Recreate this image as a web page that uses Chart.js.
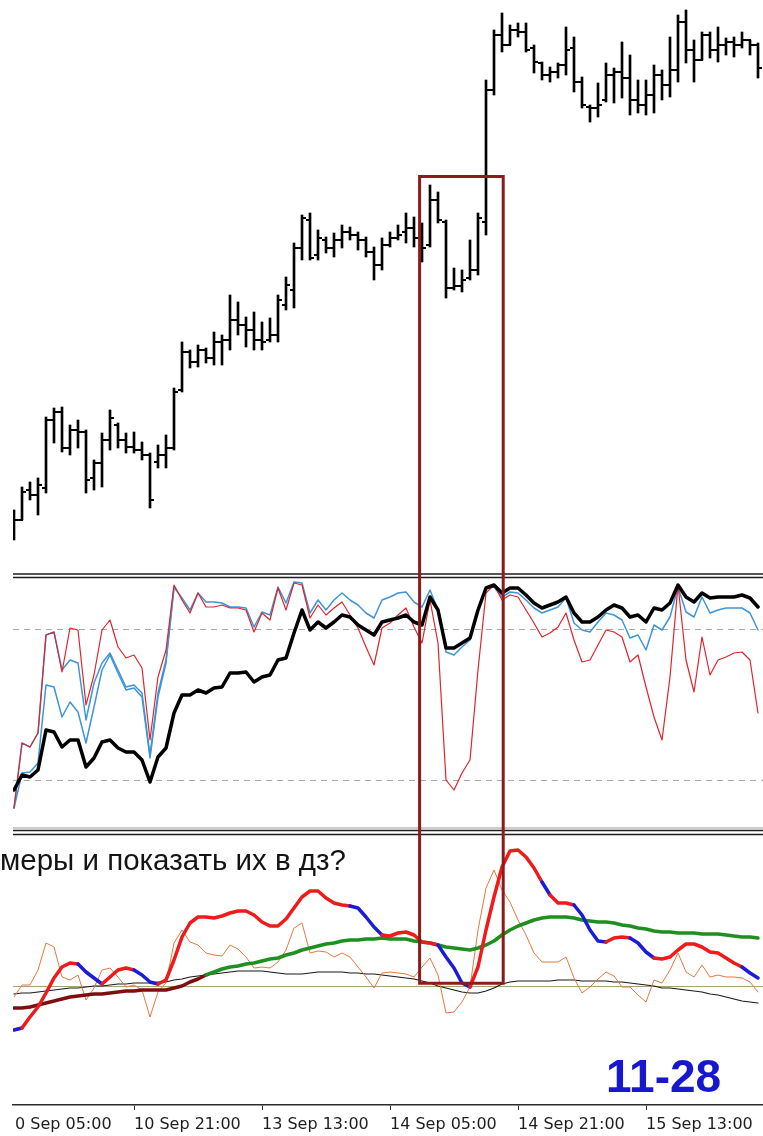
<!DOCTYPE html>
<html>
<head>
<meta charset="utf-8">
<script src="https://cdn.jsdelivr.net/npm/chart.js@4.4.1/dist/chart.umd.min.js"></script>
<style>
html,body{margin:0;padding:0;background:#fff;}
body{position:relative;width:763px;height:1136px;overflow:hidden;}
canvas{position:absolute;left:0;display:block;}
#priceCanvas{top:0;}
#oscCanvas{top:572px;}
#macdCanvas{top:836px;}
.note{position:absolute;white-space:nowrap;font-family:"Liberation Sans",Arial,sans-serif;line-height:1;}
#question{left:0;top:845px;font-size:29.5px;color:#141414;}
#stamp{left:606px;top:1053px;font-size:46px;font-weight:bold;color:#1717cf;}
</style>
</head>
<body>
<canvas id="priceCanvas" width="763" height="572"></canvas>
<canvas id="oscCanvas" width="763" height="264"></canvas>
<canvas id="macdCanvas" width="763" height="300"></canvas>
<div id="question" class="note">меры и показать их в дз?</div>
<div id="stamp" class="note">11-28</div>
<script>
// ---------- categories / time axis ----------
const barIndex = Array.from({length: 94}, (_, i) => i);
const tickBars = [0.125, 15, 31, 47, 63, 79];
const tickLabels = ['0 Sep 05:00', '10 Sep 21:00', '13 Sep 13:00', '14 Sep 05:00', '14 Sep 21:00', '15 Sep 13:00'];

// ---------- price bars (points) ----------
const priceHigh = [90,113,118,122,183,192,193,175,180,170, 140,167,190,177,167,168,158,147,155,165,
  212,258,250,255,252,268,265,305,298,283, 288,278,282,305,323,357,385,387,370,363,
  367,375,373,368,363,353,362,368,375,387, 383,377,415,408,380,332,330,360,387,520,
  570,587,575,577,577,555,538,533,537,573, 563,523,495,517,537,532,558,545,520,520,
  535,530,563,585,590,560,568,568,573,562, 563,568,560,557];
const priceLow = [60,80,100,85,107,157,148,145,152,107, 110,113,150,152,147,147,140,92,132,132,
  150,208,232,233,237,235,235,250,265,253, 250,250,258,258,290,292,340,340,340,347,
  343,352,360,350,343,320,330,353,360,357, 353,338,353,377,302,310,308,320,325,365,
  505,548,555,563,548,527,520,518,522,525, 508,492,478,483,498,497,502,485,487,485,
  487,500,503,518,537,518,540,542,538,545, 543,552,545,522];
const priceOpen = [72,80,110,105,112,180,188,152,170,168, 122,137,160,175,160,153,150,145,138,145,
  152,210,248,238,250,242,258,260,280,275, 270,260,260,265,295,310,352,380,345,360,
  352,360,368,365,360,348,335,355,362,368, 372,362,355,400,378,312,314,322,330,378,
  510,565,555,570,568,552,537,525,528,535, 552,518,493,492,500,525,528,522,500,495,
  505,525,515,530,578,550,540,565,550,555, 558,555,560,555];
const priceClose = [80,108,105,115,180,188,152,170,168,120, 137,160,182,160,153,150,145,100,145,152,
  208,248,238,250,242,258,260,280,275,270, 260,258,265,300,315,352,382,342,362,352,
  360,368,365,360,348,335,355,362,365,372, 362,352,400,380,312,314,320,330,382,510,
  565,555,570,568,550,538,525,528,535,550, 518,495,492,495,525,528,522,500,495,505,
  525,515,530,578,550,540,565,550,555,558, 555,560,555,532];

// ---------- oscillator panel (0..100) ----------
const oscLevels = [20, 80];
const oscBlack = [16,22,21.2,24,40,39.2,33.2,36,36,25.2, 28.8,35.2,36,32.8,31.2,31.2,28,19.2,29.2,32.8,
  46.8,54,54,56,54.8,56.8,57.2,62.8,62.8,63.2, 59.2,61.2,62,68,68.8,78.8,88,80,83.2,80.8,
  83.2,86,85.2,82,80,78,83.2,84,84.8,86, 83.2,82,93.2,88,72.8,72.8,74.8,76.8,88,96.8,
  98,94.8,96.8,96.8,94,90.8,88.8,90,91.2,93.2, 86.8,83.2,83.2,85.2,88,90,88.8,85.2,86,83.2,
  88.8,88,90.8,98,93.2,91.2,94.8,92.8,93.2,93.2, 93.2,94,92.8,89.2];
const oscRed = [8.8,34.8,33.2,38.8,78,79.2,63.2,80.8,80,50, 62,80,84,73.2,68.8,70,64.8,36,61.2,72,
  98,92,86.8,94.8,89.2,89.2,90,88.8,88.8,88, 79.2,86.8,84,96.8,88,98.8,98,84.8,90,86,
  88.8,91.2,86,80.8,73.2,66,80.8,82.8,86,88.8, 81.2,74.8,92,74.8,20,16,22.8,28,64,94.8,
  98,92,94,93.2,88,82.8,77.2,78.8,81.2,86.8, 76,67.2,68,74,80,79.2,77.2,67.2,70,57.2,
  45.2,36,61.2,98,68,55.2,77.2,62,68,69.2, 70.8,71.2,68,46.8];
const oscBlue = [8.8,34.8,33.2,38.8,78,79.2,64,68,66.8,44, 58.8,66.8,70.8,64,57.2,58,54.8,30,54.8,68,
  97.2,92.8,88,94.8,91.2,91.2,90.8,89.2,89.2,88.8, 81.2,87.2,86,97.2,90.8,99.2,98.8,86.8,92,88,
  92,94.8,92,90,86.8,84.8,92,93.2,94.8,95.2, 91.2,89.2,96,88,71.2,70,73.2,76,88,96.8,
  97.2,93.2,95.2,94.8,92,88.8,86.8,88,89.2,92.8, 82.8,80,79.2,83.2,86.8,86,84,76.8,78,72,
  82,80,85.2,97.2,87.2,85.2,93.2,86.8,88,88.8, 88.8,88.8,86.8,80];
const oscBlueSlow = [8.8,22.8,23.2,26.8,58,57.2,45.2,51.2,47.2,34.8, 49.2,64,70,62.8,56,56.8,53.2,28.8,53.2,66.8, 96.8];

// ---------- lower panel ----------
const zeroLevel = [0];
const macdMain = [-4.4,-4.2,-3.1,-2.1,-0.7,0.8,1.9,2.3,2.2,1.4, 0.8,0.2,0.9,1.6,1.8,1.6,1.1,0.4,0.2,0.6,
  2.6,4.9,6.3,6.9,6.9,6.8,7.0,7.3,7.5,7.5, 7.1,6.4,6.0,6.0,6.7,7.8,8.9,9.5,9.5,8.8,
  8.3,8.1,8.0,7.8,6.9,5.9,5.1,5.0,5.3,5.4, 5.1,4.4,4.3,4.1,2.9,1.8,0.3,-0.1,1.9,5.6,
  8.9,11.9,13.5,13.6,12.9,11.8,10.4,9.1,8.3,8.3, 8.1,7.1,5.6,4.5,4.4,4.8,4.9,4.8,4.3,3.4,
  2.8,2.7,2.9,3.6,4.2,4.2,3.9,3.4,3.3,2.8, 2.3,1.9,1.3,0.8];
const macdState = 'dduuuuuuu ddd uuuu ddd uuuuuu uuuuuu uuuuuu uuuuuu dddd uuuu uuu dddd uuuuu uuuu d uuu dddd uuu ddd uuuuuu uuuuu dd'.replace(/ /g, '').split('');
const macdSignal = [-2.2,-2.2,-2.1,-1.9,-1.7,-1.5,-1.3,-1.1,-1.0,-0.9, -0.8,-0.8,-0.7,-0.6,-0.5,-0.5,-0.4,-0.4,-0.4,-0.4,
  -0.2,0,0.4,0.7,1.1,1.4,1.7,1.9,2.0,2.2, 2.3,2.5,2.7,2.8,3.1,3.3,3.6,3.8,4.0,4.2,
  4.3,4.5,4.6,4.6,4.7,4.7,4.8,4.7,4.7,4.7, 4.5,4.4,4.3,4.1,3.9,3.8,3.7,3.6,3.8,4.1,
  4.5,5.1,5.6,6.0,6.3,6.6,6.8,6.9,6.9,6.9, 6.8,6.6,6.5,6.4,6.4,6.3,6.1,6.0,5.8,5.7,
  5.5,5.4,5.4,5.3,5.3,5.3,5.2,5.2,5.2,5.1, 5.0,4.9,4.9,4.8];
const slowBlack = [-0.8,-0.7,-0.7,-0.6,-0.5,-0.4,-0.3,-0.2,-0.2,-0.1, 0,0,0.1,0.2,0.2,0.3,0.3,0.3,0.4,0.4,
  0.6,0.7,0.9,1.0,1.1,1.2,1.3,1.4,1.5,1.5, 1.5,1.5,1.4,1.3,1.2,1.2,1.2,1.3,1.4,1.4,
  1.4,1.4,1.3,1.3,1.2,1.2,1.1,1.0,0.9,0.8, 0.7,0.5,0.3,0,-0.2,-0.4,-0.6,-0.7,-0.7,-0.5,
  -0.2,0.2,0.4,0.5,0.5,0.5,0.5,0.5,0.6,0.6, 0.6,0.5,0.5,0.5,0.5,0.4,0.4,0.3,0.2,0.1,
  0,-0.2,-0.2,-0.3,-0.4,-0.5,-0.6,-0.8,-0.9,-1.1, -1.3,-1.5,-1.6,-1.7];
const fastOrange = [-1.1,0.1,0.1,1.6,4.3,3.9,0.9,0.6,1.1,-1.4, -0.2,1.6,1.8,0.9,-0.1,0.1,-0.4,-3.1,-0.6,0.3,
  4.3,5.6,4.4,4.1,3.3,3.1,3.0,4.1,3.7,2.9, 1.8,1.9,1.8,2.4,3.6,5.8,6.3,3.3,3.5,3.4,
  2.9,3.3,2.9,1.9,0.9,-0.2,1.3,1.4,1.3,1.2, 0.9,1.9,2.8,1.1,-2.7,-2.6,-1.6,-0.1,5.6,9.8,
  11.6,9.6,8.4,6.6,5.1,3.3,2.4,2.4,2.4,2.9, 0.8,-0.7,-0.1,0.7,1.4,1.0,-0.1,-0.1,-0.9,-1.6,
  0.6,0.3,1.6,3.3,1.4,0.9,2.1,0.9,1.1,0.9, 0.9,0.8,0.4,-0.6];

// ---------- highlighted window ----------
const boxFromBar = 50.7, boxToBar = 61.15, boxTopPrice = 423.5, boxBottomLevel = 0.27;

// ---------- helpers ----------
const xMin = -0.125, xMax = 93.625;
const pts = arr => arr.map((v, i) => ({x: barIndex[i], y: v}));
function tickImage(side) {
  const c = document.createElement('canvas');
  c.width = 8; c.height = 2;
  const g = c.getContext('2d');
  g.fillStyle = '#000';
  if (side === 'open') g.fillRect(0, 0, 5, 2); else g.fillRect(3, 0, 5, 2);
  return c;
}
const BOX_COLOR = '#8e1b1b';
const boxPlugin = {
  id: 'box',
  afterDraw(chart, args, opts) {
    const {ctx, scales} = chart;
    const x1 = scales.x.getPixelForValue(boxFromBar);
    const x2 = scales.x.getPixelForValue(boxToBar);
    ctx.save();
    ctx.strokeStyle = BOX_COLOR; ctx.lineWidth = 3; ctx.lineJoin = 'miter';
    ctx.beginPath();
    if (opts.part === 'top') {
      const t = scales.y.getPixelForValue(boxTopPrice);
      ctx.moveTo(x1, chart.height); ctx.lineTo(x1, t); ctx.lineTo(x2, t); ctx.lineTo(x2, chart.height);
    } else if (opts.part === 'bottom') {
      const b = scales.y.getPixelForValue(boxBottomLevel);
      ctx.moveTo(x1, 0); ctx.lineTo(x1, b); ctx.lineTo(x2, b); ctx.lineTo(x2, 0);
    } else {
      ctx.moveTo(x1, 0); ctx.lineTo(x1, chart.height);
      ctx.moveTo(x2, 0); ctx.lineTo(x2, chart.height);
    }
    ctx.stroke();
    ctx.restore();
  }
};
const framePlugin = {
  id: 'frame',
  beforeDraw(chart) {
    const {ctx, chartArea} = chart;
    const lines = [[2, 1.5, '#1e1e1e'], [5.5, 1.5, '#1e1e1e'], [256, 1, '#9a9a9a'], [258.5, 1.5, '#1e1e1e'], [262.5, 1.5, '#1e1e1e']];
    ctx.save();
    for (const [y, w, c] of lines) {
      ctx.strokeStyle = c; ctx.lineWidth = w;
      ctx.beginPath(); ctx.moveTo(chartArea.left, y); ctx.lineTo(chartArea.right, y); ctx.stroke();
    }
    ctx.restore();
  }
};
const base = {
  responsive: false, animation: false, events: [],
  layout: {autoPadding: false, padding: {left: 13, right: 0, top: 0, bottom: 0}},
  elements: {point: {radius: 0}, line: {tension: 0, borderJoinStyle: 'round', borderCapStyle: 'round'}},
};
const hiddenX = () => ({type: 'linear', min: xMin, max: xMax, offset: false, display: false});

// ---------- price chart ----------
new Chart(document.getElementById('priceCanvas'), {
  type: 'bar',
  data: {datasets: [
    {type: 'line', data: pts(priceOpen), showLine: false, pointStyle: tickImage('open'), pointRadius: 4, order: 1},
    {type: 'line', data: pts(priceClose), showLine: false, pointStyle: tickImage('close'), pointRadius: 4, order: 1},
    {type: 'bar', data: barIndex.map(i => ({x: i, y: [priceLow[i], priceHigh[i]]})), backgroundColor: '#000', borderWidth: 0, barThickness: 2, order: 2},
  ]},
  options: Object.assign({}, base, {
    plugins: {legend: {display: false}, tooltip: {enabled: false}, box: {part: 'top'}},
    scales: {x: hiddenX(), y: {type: 'linear', min: 28, max: 600, beginAtZero: false, display: false}},
  }),
  plugins: [boxPlugin],
});

// ---------- oscillator chart ----------
new Chart(document.getElementById('oscCanvas'), {
  type: 'line',
  data: {datasets: [
    {data: pts(oscBlack), borderColor: '#000', borderWidth: 3.5, order: 0},
    {data: pts(oscRed), borderColor: '#e0242c', borderWidth: 1.2, order: 1},
    {data: pts(oscBlue), borderColor: '#3d95d8', borderWidth: 1.5, order: 2},
    {data: pts(oscBlueSlow), borderColor: '#3d95d8', borderWidth: 1.5, order: 3},
  ]},
  options: Object.assign({}, base, {
    layout: {autoPadding: false, padding: {left: 13, right: 0, top: 8, bottom: 6}},
    plugins: {legend: {display: false}, tooltip: {enabled: false}, box: {part: 'mid'}},
    scales: {
      x: hiddenX(),
      y: {type: 'linear', min: 0, max: 100,
        afterBuildTicks: s => { s.ticks = oscLevels.map(v => ({value: v})); },
        grid: {drawTicks: false, color: '#a9a9a9', lineWidth: 1},
        border: {display: false, dash: [6, 5]},
        ticks: {display: false}},
    },
  }),
  plugins: [framePlugin, boxPlugin],
});

// ---------- lower chart ----------
new Chart(document.getElementById('macdCanvas'), {
  type: 'line',
  data: {datasets: [
    {data: pts(macdMain), borderWidth: 3.5, borderColor: '#ee1b1b', order: 0,
      segment: {borderColor: c => macdState[c.p1DataIndex] === 'd' ? '#1c1cd8' : '#ee1b1b'}},
    {data: pts(macdSignal), borderWidth: 3.5, borderColor: '#1f8f1f', order: 1,
      segment: {borderColor: c => macdSignal[c.p1DataIndex] > slowBlack[c.p1DataIndex] ? '#1f8f1f' : '#7d0f0f'}},
    {data: pts(fastOrange), borderColor: '#e8773c', borderWidth: 1, order: 2},
    {data: pts(slowBlack), borderColor: '#1a1a1a', borderWidth: 1.2, order: 3},
  ]},
  options: Object.assign({}, base, {
    plugins: {legend: {display: false}, tooltip: {enabled: false}, box: {part: 'bottom'}},
    scales: {
      x: {type: 'linear', min: xMin, max: xMax, offset: false,
        afterBuildTicks: s => { s.ticks = tickBars.map(v => ({value: v})); },
        afterFit: s => { s.height = 31; s.paddingLeft = 0; s.paddingRight = 0; },
        grid: {drawOnChartArea: false, drawTicks: true, tickLength: 5, lineWidth: 1,
          color: c => c.index === 0 ? 'rgba(0,0,0,0)' : '#2b2b2b'},
        border: {display: true, color: '#2b2b2b', width: 1.5},
        ticks: {autoSkip: false, maxRotation: 0, minRotation: 0, align: 'start', padding: 5, color: '#1e1e1e',
          font: {family: "'DejaVu Sans', sans-serif", size: 16}, callback: (v, i) => tickLabels[i]}},
      y: {type: 'linear', min: -11.9, max: 15,
        afterBuildTicks: s => { s.ticks = zeroLevel.map(v => ({value: v})); },
        grid: {drawTicks: false, color: '#a3a37a', lineWidth: 1},
        border: {display: false},
        ticks: {display: false}},
    },
  }),
  plugins: [boxPlugin],
});
</script>
</body>
</html>
